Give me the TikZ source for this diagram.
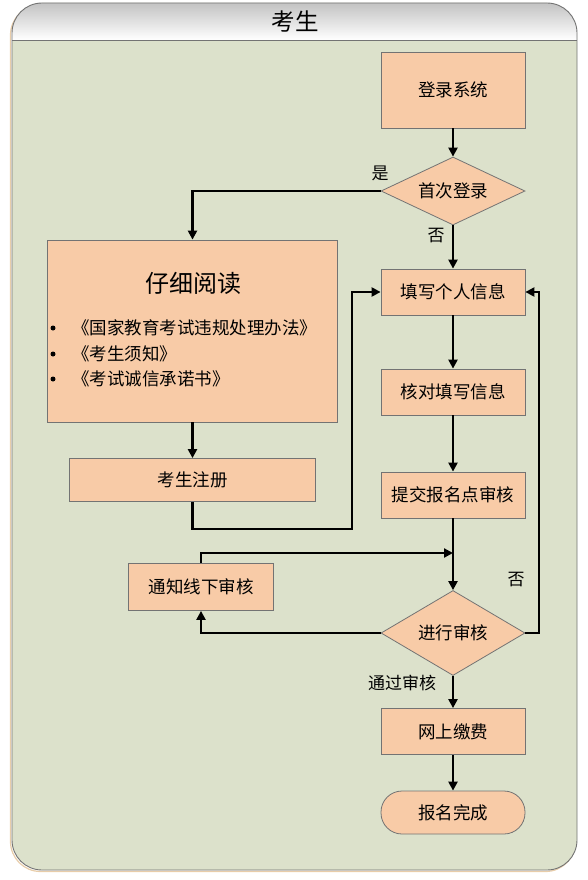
\documentclass[tikz,border=0pt]{standalone}
\usepackage{fontspec}
\setmainfont{Noto Sans CJK SC}
\usetikzlibrary{shapes.geometric,arrows.meta}
\definecolor{bodyc}{RGB}{220,225,203}
\definecolor{peach}{RGB}{248,203,167}
\definecolor{edgec}{RGB}{115,115,115}
\definecolor{headtop}{RGB}{195,195,195}
\definecolor{shadowc}{RGB}{232,205,170}
\tikzset{
  box/.style={draw=edgec, line width=0.8pt, fill=peach, minimum width=144pt, minimum height=46pt, inner sep=0pt, font=\fontsize{17.5}{20}\selectfont},
  dec/.style={draw=edgec, line width=0.8pt, fill=peach, shape=diamond, aspect=2.2, minimum width=144pt, minimum height=68pt, inner sep=0pt, font=\fontsize{17.5}{20}\selectfont},
  arrow/.style={line width=2.2pt, -{Triangle[length=9pt,width=9pt]}},
  lbl/.style={inner sep=0pt, font=\fontsize{17}{19}\selectfont},
  dot/.style={circle, fill=black, inner sep=0pt, minimum size=5pt},
}
\begin{document}
\begin{tikzpicture}[x=1pt,y=-1pt]
\useasboundingbox (0,0) rectangle (587,880);
% frame shadow
\draw[shadowc, line width=1.2pt, rounded corners=30pt] (10.5,5) rectangle (575.5,871.5);
% frame body
\fill[bodyc, rounded corners=30pt] (12,3) rectangle (577,870);
\begin{scope}
  \clip[rounded corners=30pt] (12,3) rectangle (577,870);
  \shade[top color=headtop, bottom color=white] (12,3) rectangle (577,40);
\end{scope}
\draw[edgec, line width=0.9pt, rounded corners=30pt] (12,3) rectangle (577,870);
\draw[edgec, line width=0.9pt] (12,40) -- (577,40);
\node[inner sep=0pt, font=\fontsize{23.5}{26}\selectfont] (title) at (295,21) {考生};

% right column
\node[box, minimum height=76pt] (login) at (453,90) {登录系统};
\node[dec] (first) at (453,191) {首次登录};
\node[box] (fill) at (453,292) {填写个人信息};
\node[box] (check) at (453,392) {核对填写信息};
\node[box] (submit) at (453,495) {提交报名点审核};
\node[dec, minimum height=85pt] (review) at (453,633) {进行审核};
\node[box] (pay) at (453,731.5) {网上缴费};
\node[box, minimum height=43pt, rounded corners=21pt] (done) at (453,812.5) {报名完成};

% left column
\node[box, minimum width=290pt, minimum height=182pt] (read) at (192.5,331) {};
\node[inner sep=0pt, font=\fontsize{24}{26}\selectfont] (readt) at (193,283) {仔细阅读};
\node[dot] (b1) at (53,328) {};
\node[dot] (b2) at (53,354) {};
\node[dot] (b3) at (53,379) {};
\node[lbl, anchor=west, font=\fontsize{17.5}{20}\selectfont] (t1) at (72,328) {《国家教育考试违规处理办法》};
\node[lbl, anchor=west, font=\fontsize{17.5}{20}\selectfont] (t2) at (72,354) {《考生须知》};
\node[lbl, anchor=west, font=\fontsize{17.5}{20}\selectfont] (t3) at (72,379) {《考试诚信承诺书》};
\node[box, minimum width=246pt, minimum height=43pt] (reg) at (192.5,480) {考生注册};
\node[box, minimum width=145pt, minimum height=47pt] (notify) at (201,587) {通知线下审核};

% labels
\node[lbl] (yes) at (380,173) {是};
\node[lbl] (no1) at (436,236) {否};
\node[lbl] (no2) at (516,580) {否};
\node[lbl] (pass) at (402,683) {通过审核};

% coordinates
\coordinate (j1) at (352,529);
\coordinate (j2) at (453,553);
\coordinate (j3) at (539,633);

% connectors
\draw[arrow] (login) -- (first);
\draw[arrow] (first.west) -| (read.north);
\draw[arrow] (first.south) -- (fill.north);
\draw[arrow] (read.south) -- (reg.north);
\draw[arrow] (reg.south) |- (j1) |- (fill.west);
\draw[arrow] (fill) -- (check);
\draw[arrow] (check) -- (submit);
\draw[arrow] (submit.south) -- (review.north);
\draw[arrow] (notify.north) |- (j2);
\draw[arrow] (review.west) -| (notify.south);
\draw[arrow] (review.east) -- (j3) |- (fill.east);
\draw[arrow] (review.south) -- (pay.north);
\draw[arrow] (pay) -- (done);
\end{tikzpicture}
\end{document}
